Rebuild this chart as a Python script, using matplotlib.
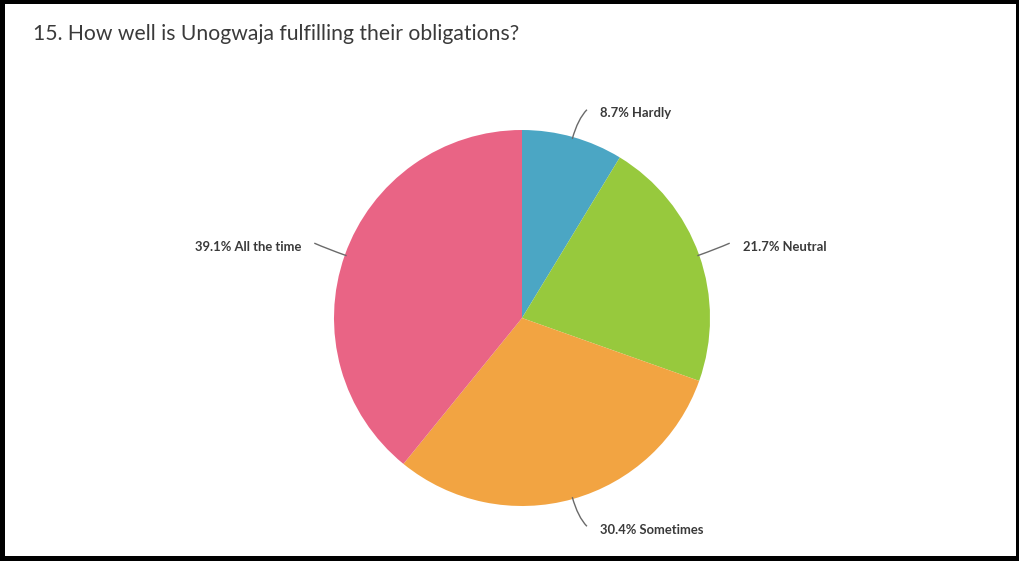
import numpy as np
import matplotlib.pyplot as plt
from matplotlib.patches import Rectangle
from matplotlib.path import Path
from matplotlib.patches import PathPatch

title = "15. How well is Unogwaja fulfilling their obligations?"
categories = ["Hardly", "Neutral", "Sometimes", "All the time"]
shares = [8.7, 21.7, 30.4, 39.1]
colors = ["#4ba6c4", "#97c93d", "#f2a442", "#e96485"]

W, H = 1020, 561
fig = plt.figure(figsize=(W / 100, H / 100), dpi=100, facecolor="black")

# white card inside the black frame
fig.patches.append(Rectangle((5 / W, 5 / H), (1016 - 5) / W, (556 - 4) / H,
                             transform=fig.transFigure, facecolor="white",
                             edgecolor="none", zorder=-10))

fig.text(33 / W, 1 - 34 / H, title, fontsize=15.2, family="Lato",
         color="#3a3a3a", va="center", ha="left")

cx, cy, R = 522, 318, 188
ax = fig.add_axes([(cx - R) / W, (H - cy - R) / H, 2 * R / W, 2 * R / H])
ax.set_zorder(5)
ax.patch.set_visible(False)

wedges, _ = ax.pie(shares, colors=colors, startangle=90, counterclock=False,
                   radius=1, wedgeprops=dict(linewidth=0))
ax.set_xlim(-1, 1)
ax.set_ylim(-1, 1)
ax.set_aspect("equal")
ax.axis("off")
for w in wedges:
    w.set_clip_on(False)

for w, cat, val in zip(wedges, categories, shares):
    mid = np.deg2rad((w.theta1 + w.theta2) / 2)
    ux, uy = np.cos(mid), np.sin(mid)
    p0 = (ux * 0.99, uy * 0.99)
    p1 = (ux * 1.10, uy * 1.10)
    side = 1 if ux >= 0 else -1
    p2 = (ux * 1.13 + side * 0.04, uy * 1.13 + 0.02 * np.sign(uy))
    path = Path([p0, p1, p2], [Path.MOVETO, Path.CURVE3, Path.CURVE3])
    ax.add_patch(PathPatch(path, facecolor="none", edgecolor="#6a6a6a",
                           linewidth=1.0, clip_on=False))
    tx = p2[0] + side * 0.07
    ty = p2[1] - 0.02
    ax.text(tx, ty, f"{val}% {cat}", fontsize=9.4, family="Lato",
            fontweight="bold", color="#3a3a3a",
            ha="left" if side > 0 else "right", va="center", clip_on=False)

fig.savefig("out.png", dpi=100, facecolor="black")
